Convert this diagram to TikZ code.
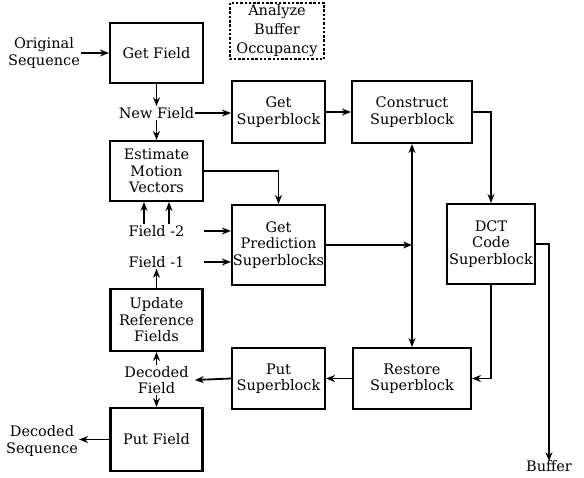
\documentclass[tikz,border=0pt]{standalone}
\usepackage{fontspec}
\setmainfont{DejaVu Serif}
\usetikzlibrary{arrows.meta,calc}
\tikzset{
  blk/.style={draw,line width=2.1pt,align=center,inner sep=1pt,font=\fontsize{14.5}{16.5}\selectfont},
  lbl/.style={align=center,inner sep=1pt,font=\fontsize{14.5}{16.5}\selectfont},
  arr/.style={line width=1.8pt,-{Stealth[length=9pt,width=7pt]}},
  darr/.style={line width=1.8pt,{Stealth[length=9pt,width=7pt]}-{Stealth[length=9pt,width=7pt]}},
}
\begin{document}
\begin{tikzpicture}[x=1pt,y=-1pt]
\useasboundingbox (0,0) rectangle (584,478);
% blocks
\node[blk,minimum width=93pt,minimum height=60pt] (getfield) at (156.5,53) {Get Field};
\node[blk,draw=none,minimum width=92pt,minimum height=48pt,font=\fontsize{14.5}{19}\selectfont] (analyze) at (277,31) {Analyze\\Buffer\\Occupancy};
\draw[line width=1.8pt,dash pattern=on 2.5pt off 1.8pt] (analyze.north west) rectangle (analyze.south east);
\node[blk,minimum width=93pt,minimum height=62pt] (getsb) at (278.5,112) {Get\\Superblock};
\node[blk,minimum width=120pt,minimum height=62pt] (construct) at (412,112) {Construct\\Superblock};
\node[blk,minimum width=93pt,minimum height=60pt] (estimate) at (156.5,171) {Estimate\\Motion\\Vectors};
\node[blk,minimum width=93pt,minimum height=80pt] (getpred) at (278.5,245) {Get\\Prediction\\Superblocks};
\node[blk,minimum width=88pt,minimum height=80pt] (dct) at (491,244) {DCT\\Code\\Superblock};
\node[blk,minimum width=92pt,minimum height=62pt] (update) at (156.5,320) {Update\\Reference\\Fields};
\node[blk,minimum width=93pt,minimum height=61pt] (putsb) at (278.5,378.5) {Put\\Superblock};
\node[blk,minimum width=118pt,minimum height=61pt] (restore) at (412,378.5) {Restore\\Superblock};
\node[blk,minimum width=92pt,minimum height=63pt] (putfield) at (156.5,439.5) {Put Field};
% labels
\node[lbl] (origseq) at (44,53) {Original\\Sequence};
\node[lbl] (newfield) at (156.5,113) {New Field};
\node[lbl] (field2) at (156.5,231) {Field -2};
\node[lbl] (field1) at (156.5,262) {Field -1};
\node[lbl] (decfield) at (156.5,380) {Decoded\\Field};
\node[lbl] (decseq) at (42,441) {Decoded\\Sequence};
\node[lbl] (buffer) at (549,466) {Buffer};
% connectors
\draw[arr] (origseq.east) -- (getfield.west);
\draw[arr] (getfield.south) -- (newfield.north);
\draw[arr] (newfield.east) -- (newfield.east -| getsb.west);
\draw[arr] (newfield.south) -- (estimate.north);
\draw[arr] (getsb.east) -- (construct.west);
\draw[arr] (construct.east) -| (dct.north);
\draw[arr] (dct.east) -| ([yshift=-2pt]buffer.north);
\draw[arr] (dct.south) |- (restore.east);
\draw[arr] (restore.west) -- (putsb.west -| putsb.east);
\draw[arr] (putsb.west) -- ([xshift=5pt]decfield.east);
\draw[arr] (decfield.north) -- (update.south);
\draw[arr] (decfield.south) -- (putfield.north);
\draw[arr] (putfield.west) -- (putfield.west -| decseq.east);
\draw[arr] (estimate.east) -| (getpred.north);
\draw[arr] (field2.east -| estimate.east) -- (field2.east -| getpred.west);
\draw[arr] (field1.east -| estimate.east) -- (field1.east -| getpred.west);
\draw[arr] ([xshift=-12.5pt]field2.north) -- ([xshift=-12.5pt]estimate.south);
\draw[arr] ([xshift=12.5pt]field2.north) -- ([xshift=12.5pt]estimate.south);
\draw[arr] (update.north) -- (field1.south);
\draw[arr] (getpred.east) -- (getpred.east -| construct.south);
\draw[darr] (restore.north) -- (construct.south);
\end{tikzpicture}
\end{document}
